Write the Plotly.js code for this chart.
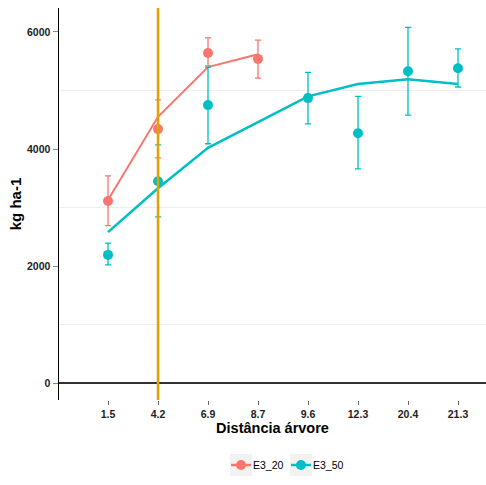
<!DOCTYPE html>
<html>
<head>
<meta charset="utf-8">
<script src="https://cdn.plot.ly/plotly-3.0.1.min.js"></script>
<style>html,body{margin:0;padding:0;background:#fff}#chart{width:486px;height:485px}</style>
</head>
<body>
<div id="chart"></div>
<script>
// Categories (distance from tree)
var categories = ['1.5', '4.2', '6.9', '8.7', '9.6', '12.3', '20.4', '21.3'];

// E3_20 observed means and error bounds
var e320Cats = ['1.5', '4.2', '6.9', '8.7'];
var e320Mean = [3110, 4340, 5640, 5540];
var e320Upper = [3540, 4840, 5900, 5860];
var e320Lower = [2690, 3850, 5420, 5210];
// E3_20 fitted line
var e320FitCats = ['1.5', '4.2', '6.9', '8.7'];
var e320Fit = [3130, 4550, 5400, 5620];

// E3_50 observed means and error bounds
var e350Cats = ['1.5', '4.2', '6.9', '9.6', '12.3', '20.4', '21.3'];
var e350Mean = [2190, 3450, 4750, 4870, 4270, 5330, 5380];
var e350Upper = [2390, 4070, 5400, 5310, 4900, 6080, 5710];
var e350Lower = [2020, 2840, 4090, 4430, 3660, 4580, 5060];
// E3_50 fitted line
var e350FitCats = ['1.5', '4.2', '6.9', '8.7', '9.6', '12.3', '20.4', '21.3'];
var e350Fit = [2580, 3330, 4020, 4460, 4900, 5110, 5190, 5110];

// Series names
var seriesNames = ['E3_20', 'E3_50'];

// Reference vertical line category
var refCat = '4.2';

var red = '#F8766D', teal = '#00BFC4';
var seriesColors = [red, teal];

function plus(m, u) { return m.map(function (v, i) { return u[i] - v; }); }
function minus(m, l) { return m.map(function (v, i) { return v - l[i]; }); }

var traces = [
  { x: e320FitCats, y: e320Fit, mode: 'lines', line: { color: red, width: 2 }, name: seriesNames[0], hoverinfo: 'skip' },
  { x: e350FitCats, y: e350Fit, mode: 'lines', line: { color: teal, width: 2.5 }, name: seriesNames[1], hoverinfo: 'skip' },
  { x: e320Cats, y: e320Mean, mode: 'markers', marker: { color: red, size: 10 }, name: seriesNames[0],
    error_y: { type: 'data', symmetric: false, array: plus(e320Mean, e320Upper), arrayminus: minus(e320Mean, e320Lower), color: red, thickness: 1.3, width: 3 } },
  { x: e350Cats, y: e350Mean, mode: 'markers', marker: { color: teal, size: 10 }, name: seriesNames[1],
    error_y: { type: 'data', symmetric: false, array: plus(e350Mean, e350Upper), arrayminus: minus(e350Mean, e350Lower), color: teal, thickness: 1.3, width: 3 } }
];

// plot area in pixels
var M = { l: 59, r: 0, t: 8, b: 85 }, W = 486, H = 485;
var PW = W - M.l - M.r, PH = H - M.t - M.b;
function px(x) { return (x - M.l) / PW; }
function py(y) { return (M.t + PH - y) / PH; }

var shapes = [
  { type: 'line', xref: 'x', yref: 'paper', x0: categories.indexOf(refCat), x1: categories.indexOf(refCat), y0: 0, y1: 1, line: { color: '#E6A100', width: 2.5 } }
];
var annotations = [];
// ggplot-style legend below the plot
var keyLeft = [230, 290], keyY = 465, half = 11;
seriesNames.forEach(function (nm, i) {
  var cx = keyLeft[i] + half;
  shapes.push({ type: 'rect', xref: 'paper', yref: 'paper', x0: px(keyLeft[i]), x1: px(keyLeft[i] + 2 * half), y0: py(keyY + half), y1: py(keyY - half), fillcolor: '#f2f2f2', line: { width: 0 } });
  shapes.push({ type: 'line', xref: 'paper', yref: 'paper', x0: px(keyLeft[i] + 1), x1: px(keyLeft[i] + 2 * half - 1), y0: py(keyY), y1: py(keyY), line: { color: seriesColors[i], width: 2.5 } });
  shapes.push({ type: 'circle', xref: 'paper', yref: 'paper', x0: px(cx - 5), x1: px(cx + 5), y0: py(keyY + 5), y1: py(keyY - 5), fillcolor: seriesColors[i], line: { width: 0 } });
  annotations.push({ xref: 'paper', yref: 'paper', x: px(keyLeft[i] + 2 * half), y: py(keyY), xanchor: 'left', yanchor: 'middle', text: nm, showarrow: false, borderpad: 0, font: { size: 10.5, color: '#000' } });
});

var layout = {
  width: W, height: H,
  margin: M,
  paper_bgcolor: '#fff', plot_bgcolor: '#fff',
  font: { family: 'Liberation Sans, Arial, sans-serif', color: '#000' },
  showlegend: false,
  xaxis: {
    type: 'category', categoryorder: 'array', categoryarray: categories,
    range: [-0.98, 7.56], showgrid: false, zeroline: false, showline: false,
    ticks: 'outside', ticklen: 4, tickcolor: '#666', tickwidth: 1,
    tickfont: { size: 10.5, weight: 'bold', color: '#222' },
    title: { text: 'Distância árvore', font: { size: 14.5, weight: 'bold', color: '#000' }, standoff: 4 },
    fixedrange: true
  },
  yaxis: {
    range: [-290, 6410], tickvals: [0, 2000, 4000, 6000], ticktext: ['0', '2000', '4000', '6000'],
    showgrid: true, gridcolor: '#ffffff', gridwidth: 1,
    minor: { tickvals: [1000, 3000, 5000], showgrid: true, gridcolor: '#eeeeee', gridwidth: 1, ticks: '' },
    zeroline: true, zerolinecolor: '#333', zerolinewidth: 1.5,
    showline: true, linecolor: '#000', linewidth: 1.5,
    ticks: 'outside', ticklen: 5, tickcolor: '#888', tickwidth: 1,
    tickfont: { size: 10.5, weight: 'bold', color: '#222' },
    title: { text: 'kg ha-1', font: { size: 15, weight: 'bold', color: '#000' }, standoff: 2 },
    fixedrange: true
  },
  shapes: shapes,
  annotations: annotations
};

Plotly.newPlot('chart', traces, layout, { displayModeBar: false, staticPlot: true });
</script>
</body>
</html>
